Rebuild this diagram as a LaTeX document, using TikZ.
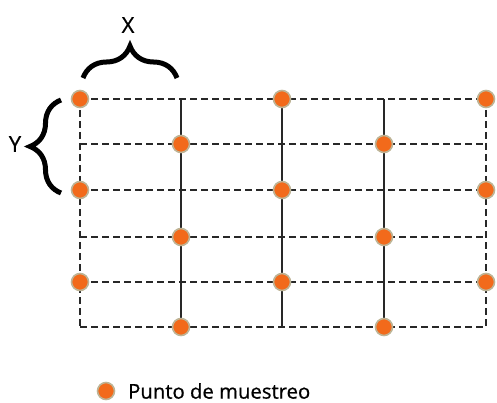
\documentclass[tikz,border=0pt]{standalone}
\usepackage{fontspec}
\setmainfont{Open Sans}[FakeBold=0.7]
\usepackage{tikz}
\usetikzlibrary{decorations.pathreplacing}
\definecolor{dotorange}{RGB}{242,106,27}
\definecolor{dotring}{RGB}{190,180,150}
\definecolor{gridgray}{RGB}{40,40,40}
\tikzset{sample/.style={draw=dotring, fill=dotorange, circle, line width=1.6pt, minimum size=17pt, inner sep=0pt}}
\tikzset{gridline/.style={draw=gridgray, line width=1.3pt, dash pattern=on 7pt off 4pt}}
\tikzset{colline/.style={draw=gridgray, line width=1.3pt}}
\tikzset{bracket/.style={draw=black, line width=5pt, decorate, decoration={brace, amplitude=#1}}}

\begin{document}
\begin{tikzpicture}[x=1pt, y=-1pt]
    \useasboundingbox (0,0) rectangle (497,403);
    % ends of the rows
    \coordinate (l1) at (80,99);
    \coordinate (l2) at (80,144);
    \coordinate (l3) at (80,190);
    \coordinate (l4) at (80,237);
    \coordinate (l5) at (80,282);
    \coordinate (l6) at (80,327);
    \coordinate (r1) at (486,99);
    \coordinate (r2) at (486,144);
    \coordinate (r3) at (486,190);
    \coordinate (r4) at (486,237);
    \coordinate (r5) at (486,282);
    \coordinate (r6) at (486,327);
    % ends of the columns
    \coordinate (t2) at (181,99);
    \coordinate (t3) at (282,99);
    \coordinate (t4) at (384,99);
    \coordinate (b2) at (181,327);
    \coordinate (b3) at (282,327);
    \coordinate (b4) at (384,327);

    \draw [gridline] (l1) -- (r1);
    \draw [gridline] (l2) -- (r2);
    \draw [gridline] (l3) -- (r3);
    \draw [gridline] (l4) -- (r4);
    \draw [gridline] (l5) -- (r5);
    \draw [gridline] (l6) -- (r6);
    \draw [gridline] (l1) -- (l6);
    \draw [gridline] (r1) -- (r6);
    \draw [colline] (t2) -- (b2);
    \draw [colline] (t3) -- (b3);
    \draw [colline] (t4) -- (b4);

    % sampling points
    \node[sample] at (80,99) (p11) {};
    \node[sample] at (80,190) (p13) {};
    \node[sample] at (80,282) (p15) {};
    \node[sample] at (181,144) (p22) {};
    \node[sample] at (181,237) (p24) {};
    \node[sample] at (181,327) (p26) {};
    \node[sample] at (282,99) (p31) {};
    \node[sample] at (282,190) (p33) {};
    \node[sample] at (282,282) (p35) {};
    \node[sample] at (384,144) (p42) {};
    \node[sample] at (384,237) (p44) {};
    \node[sample] at (384,327) (p46) {};
    \node[sample] at (486,99) (p51) {};
    \node[sample] at (486,190) (p53) {};
    \node[sample] at (486,282) (p55) {};

    % spacing
    \coordinate (xa) at (83,78);
    \coordinate (xb) at (177,78);
    \coordinate (ya) at (61,193);
    \coordinate (yb) at (61,100);
    \draw [bracket=32pt] (xa) -- (xb);
    \draw [bracket=31pt] (ya) -- (yb);
    \node at (128,25) (xlab) {\fontsize{22}{24}\selectfont X};
    \node at (15,144) (ylab) {\fontsize{22}{24}\selectfont Y};

    % legend
    \node[sample] at (106,391) (key) {};
    \node[anchor=west, inner sep=0pt] at (128,391) (keytext) {\fontsize{20.3}{22}\selectfont Punto de muestreo};
\end{tikzpicture}
\end{document}
